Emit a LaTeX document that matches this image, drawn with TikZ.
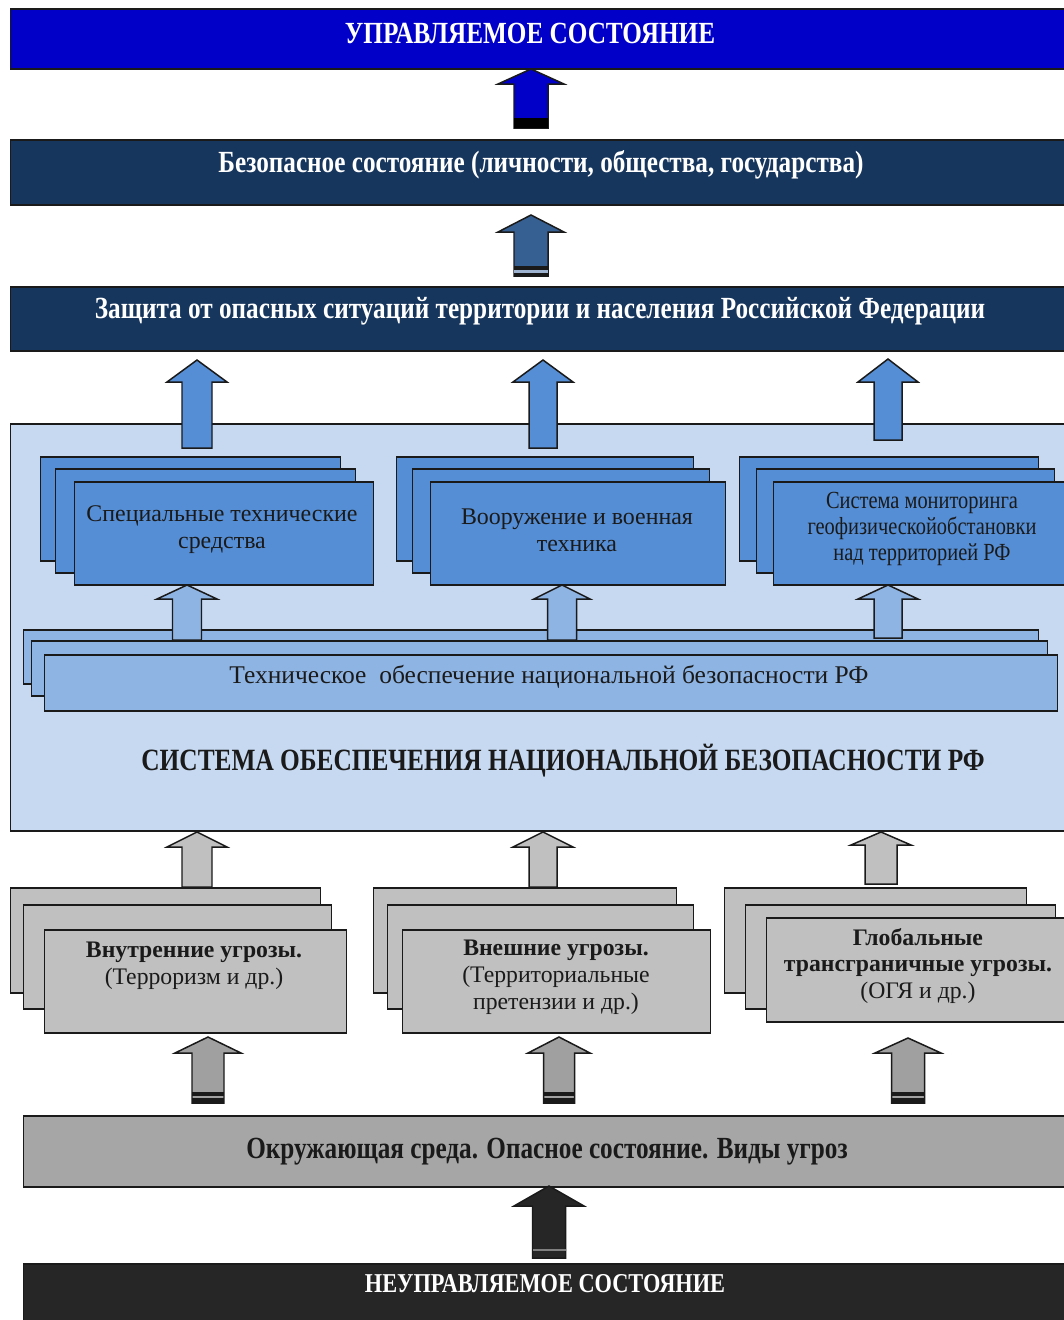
\documentclass[tikz,border=0pt]{standalone}
\usepackage{fontspec}
\setmainfont{Liberation Serif}
\newfontfamily\condf{Liberation Serif}[FakeStretch=0.82]
\newfontfamily\condg{Liberation Serif}[FakeStretch=0.83]
\definecolor{edge}{HTML}{1A1A1A}
\definecolor{topblue}{HTML}{0000C8}
\definecolor{navy}{HTML}{17365D}
\definecolor{steel}{HTML}{376092}
\definecolor{steellt}{HTML}{9DB3D0}
\definecolor{lightbg}{HTML}{C6D9F1}
\definecolor{medblue}{HTML}{558ED5}
\definecolor{techblue}{HTML}{8EB4E3}
\definecolor{lgray}{HTML}{C0C0C0}
\definecolor{dgray}{HTML}{A0A0A0}
\definecolor{envgray}{HTML}{A6A6A6}
\definecolor{nearblack}{HTML}{262626}
\newcommand\blk[7]{%
  \filldraw[draw=edge, line width=0.85pt, fill=#7, line join=miter]
    (#1,#2) -- (#1+#5,#3) -- (#1+#6,#3) -- (#1+#6,#4) -- (#1-#6,#4)
    -- (#1-#6,#3) -- (#1-#5,#3) -- cycle;}
\newcommand\bx[6]{%
  \node[draw=edge, line width=0.85pt, inner sep=0pt, anchor=north west,
        fill=#1, minimum width=#5*0.02cm, minimum height=#6*0.02cm] (#2) at (#3,#4) {};}
\tikzset{
  head/.style={inner sep=0pt, font=\condf\bfseries\fontsize{17.5}{20}\selectfont},
  bluetxt/.style={inner sep=0pt, align=center, text=edge, font=\fontsize{13.6}{15.3}\selectfont},
  graytxt/.style={inner sep=0pt, align=center, text=edge, font=\fontsize{13.5}{15.3}\selectfont}
}
\begin{document}
\begin{tikzpicture}[x=0.02cm,y=-0.02cm]
\useasboundingbox (0,0) rectangle (1064,1320);
\clip (0,0) rectangle (1064,1320);

% top bars
\bx{topblue}{ctrl}{10}{8}{1070}{60}
\node[head, text=white] (ctrlT) at (530,33) {УПРАВЛЯЕМОЕ СОСТОЯНИЕ};
\bx{navy}{safe}{10}{139}{1070}{65}
\node[head, text=white] (safeT) at (541,165) {Безопасное состояние (личности, общества, государства)};
\bx{navy}{prot}{10}{286}{1070}{64}
\node[head, text=white] (protT) at (540,311) {Защита от опасных ситуаций территории и населения Российской Федерации};

% arrows between top bars
\blk{531}{69}{84}{128}{33}{17}{topblue}
\fill[black] (514,118) rectangle (548,128);
\blk{531}{215}{232}{276}{33}{17}{steel}
\fill[edge] (514,266) rectangle (548,270);
\fill[steellt] (514,270) rectangle (548,272.5);
\fill[edge] (514,272.5) rectangle (548,276);

% national security system box
\bx{lightbg}{nsys}{10}{423}{1070}{407}
\blk{197}{360}{382}{448}{30}{15}{medblue}
\blk{543}{360}{382}{448}{30}{14}{medblue}
\blk{888}{359}{382}{440}{30}{14}{medblue}

% blue stacks
\bx{medblue}{g1a}{40}{456}{300}{104}
\bx{medblue}{g1b}{55}{468}{300}{104}
\bx{medblue}{g1c}{74}{481}{299}{103}
\node[bluetxt] (g1T) at (222,530) {Специальные технические\\средства};
\bx{medblue}{g2a}{396}{456}{297}{104}
\bx{medblue}{g2b}{412}{468}{297}{104}
\bx{medblue}{g2c}{430}{481}{295}{103}
\node[bluetxt] (g2T) at (577,530) {Вооружение и военная\\техника};
\bx{medblue}{g3a}{739}{456}{299}{104}
\bx{medblue}{g3b}{756}{468}{298}{104}
\bx{medblue}{g3c}{773}{481}{300}{103}
\node[bluetxt, font=\condg\fontsize{14}{14.8}\selectfont] (g3T) at (922,529) {Система мониторинга\\геофизическойобстановки\\над территорией РФ};

% technical support stack
\bx{techblue}{tsa}{23}{629}{1015}{54}
\blk{187}{585}{599}{640}{30}{14.5}{techblue}
\blk{562}{585}{599}{640}{28}{14.5}{techblue}
\blk{888}{585}{599}{638}{30}{14}{techblue}
\bx{techblue}{tsb}{31}{640}{1016}{55}
\bx{techblue}{tsc}{44}{654}{1013}{56}
\node[inner sep=0pt, text=edge, font=\fontsize{14.5}{16}\selectfont] (tsT) at (549,677) {Техническое\ \ обеспечение национальной безопасности РФ};

\node[inner sep=0pt, text=edge, font=\condf\bfseries\fontsize{17.6}{20}\selectfont] (nsysT) at (563,761) {СИСТЕМА ОБЕСПЕЧЕНИЯ НАЦИОНАЛЬНОЙ БЕЗОПАСНОСТИ РФ};

% gray arrows to system
\blk{197}{832}{847}{887}{30}{15}{lgray}
\blk{543}{832}{847}{887}{30}{14}{lgray}
\blk{881}{832}{845}{884}{30}{16}{lgray}

% gray stacks
\bx{lgray}{t1a}{10}{887}{310}{105}
\bx{lgray}{t1b}{23}{904}{308}{104}
\bx{lgray}{t1c}{44}{929}{302}{103}
\node[graytxt] (t1T) at (194,966) {\textbf{Внутренние угрозы.}\\(Терроризм и др.)};
\bx{lgray}{t2a}{373}{887}{303}{105}
\bx{lgray}{t2b}{387}{904}{306}{104}
\bx{lgray}{t2c}{402}{929}{308}{103}
\node[graytxt] (t2T) at (556,977) {\textbf{Внешние угрозы.}\\(Территориальные\\претензии и др.)};
\bx{lgray}{t3a}{724}{887}{302}{105}
\bx{lgray}{t3b}{745}{904}{310}{104}
\bx{lgray}{t3c}{766}{917}{310}{104}
\node[graytxt] (t3T) at (918,966) {\textbf{Глобальные}\\\textbf{трансграничные угрозы.}\\(ОГЯ и др.)};

% dark gray arrows
\blk{208}{1037}{1053}{1103}{33}{16}{dgray}
\fill[edge] (192,1092) rectangle (224,1095.5);
\fill[edge] (192,1098) rectangle (224,1103);
\blk{559}{1037}{1053}{1103}{31}{15.5}{dgray}
\fill[edge] (543.5,1092) rectangle (574.5,1095.5);
\fill[edge] (543.5,1098) rectangle (574.5,1103);
\blk{908}{1038}{1053}{1103}{33}{16.5}{dgray}
\fill[edge] (891.5,1092) rectangle (924.5,1095.5);
\fill[edge] (891.5,1098) rectangle (924.5,1103);

% environment bar
\bx{envgray}{env}{23}{1115}{1050}{71}
\node[inner sep=0pt, text=edge, font=\condf\bfseries\fontsize{17.5}{20}\selectfont] (envT) at (547,1152) {Окружающая среда. Опасное состояние. Виды угроз};

% black arrow
\blk{549}{1186}{1206}{1258}{35}{16.5}{nearblack}
\fill[gray] (532.5,1248.5) rectangle (565.5,1250.5);

% bottom bar
\bx{nearblack}{unctrl}{23}{1263}{1050}{70}
\node[inner sep=0pt, text=white, font=\condf\bfseries\fontsize{15.5}{18}\selectfont] (unctrlT) at (545,1284) {НЕУПРАВЛЯЕМОЕ СОСТОЯНИЕ};
\end{tikzpicture}
\end{document}
